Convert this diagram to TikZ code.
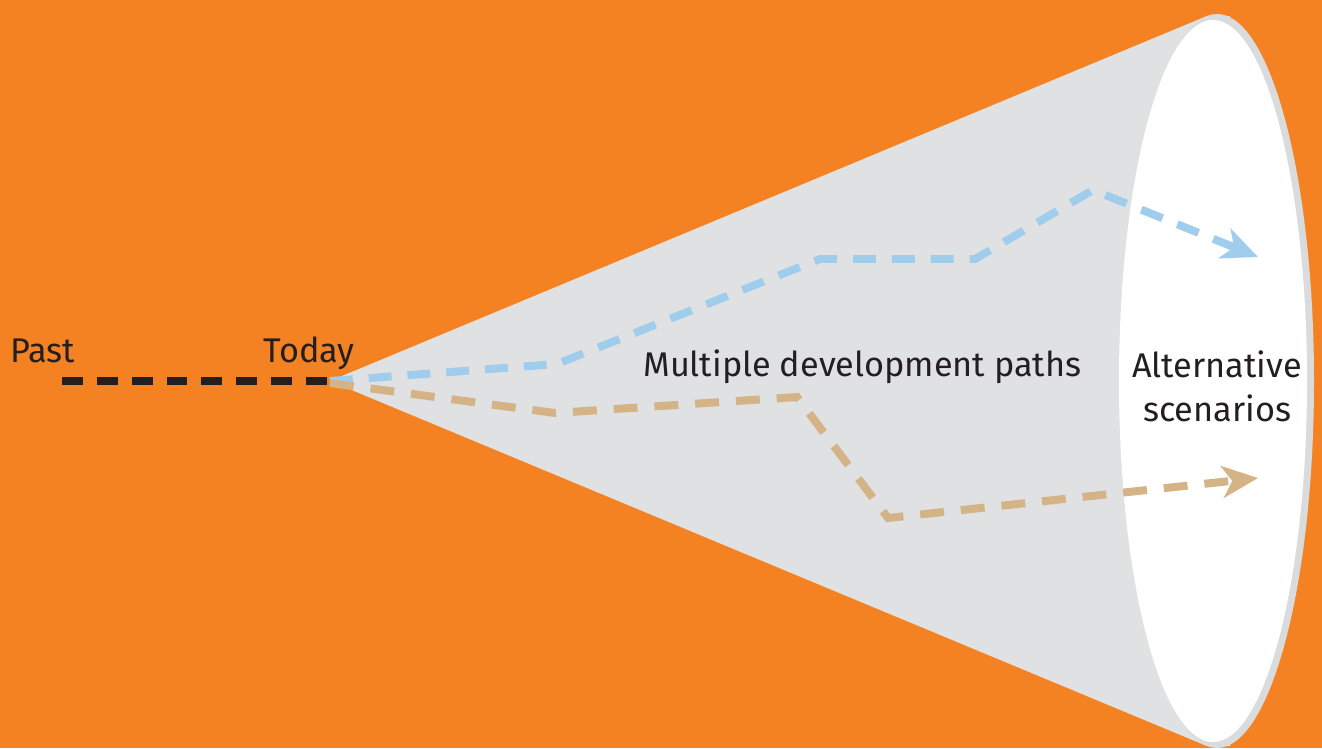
\documentclass[tikz,border=0pt]{standalone}
\usepackage{fontspec}
\setmainfont{Fira Sans}
\usetikzlibrary{arrows.meta,calc}
\definecolor{bgorange}{RGB}{244,130,34}
\definecolor{conegray}{RGB}{224,225,227}
\definecolor{ringgray}{RGB}{218,219,221}
\definecolor{pathblue}{RGB}{160,205,236}
\definecolor{pathtan}{RGB}{212,180,135}
\definecolor{txt}{RGB}{35,31,32}
\tikzset{
  lbl/.style={text=txt, font=\fontsize{19.5}{24}\selectfont, inner sep=0pt},
  pastline/.style={draw=txt, line width=4.54pt, dash pattern=on 11.9pt off 7.94pt},
  bluepath/.style={draw=pathblue, line width=4.54pt, dash pattern=on 13.04pt off 9.07pt, line join=miter,
    -{Stealth[length=20.4pt,width=18.1pt,inset=5.7pt,fill=pathblue]}},
  tanpath/.style={draw=pathtan, line width=4.54pt, dash pattern=on 13.6pt off 9.64pt, line join=miter,
    -{Stealth[length=20.4pt,width=18.1pt,inset=5.7pt,fill=pathtan]}},
}
\begin{document}
\begin{tikzpicture}[x=0.02cm,y=-0.02cm]
\useasboundingbox (0,0) rectangle (1322,748);
\fill[bgorange] (0,0) rectangle (1322,748);
% cone
\coordinate (apex) at (330,381);
\coordinate (ttop) at (1206.4,16.2);
\coordinate (tbot) at (1206.4,745.8);
\fill[conegray] (apex) -- (ttop) -- (1230,16) -- (1230,746) -- (tbot) -- cycle;
\fill[ringgray] (1217,381) ellipse [x radius=97, y radius=367];
\fill[white] (1213,381) ellipse [x radius=94, y radius=361];
% past line
\coordinate (pstart) at (62,381);
\draw[pastline] (pstart) -- (apex);
% blue path
\coordinate (b1) at (557,364);
\coordinate (b2) at (820,259);
\coordinate (b3) at (975,259);
\coordinate (b4) at (1093,190);
\coordinate (bend) at (1258,257);
\draw[bluepath] (apex) -- (b1) -- (b2) -- (b3) -- (b4) -- (bend);
% tan path
\coordinate (t1) at (555,413);
\coordinate (t2) at (797,397);
\coordinate (t3) at (888,518);
\coordinate (tend) at (1258,478);
\draw[tanpath] ($(apex)+(0,2)$) -- (t1) -- (t2) -- (t3) -- (tend);
% labels
\node[lbl, anchor=base west] (past) at (10,362) {Past};
\node[lbl, anchor=base west] (today) at (263,362) {Today};
\node[lbl, anchor=base west] (multi) at (643,376) {Multiple development paths};
\node[lbl, anchor=base, align=center] (alt) at (1217,377) {Alternative};
\node[lbl, anchor=base, align=center] (scen) at (1217,421) {scenarios};
\end{tikzpicture}
\end{document}
